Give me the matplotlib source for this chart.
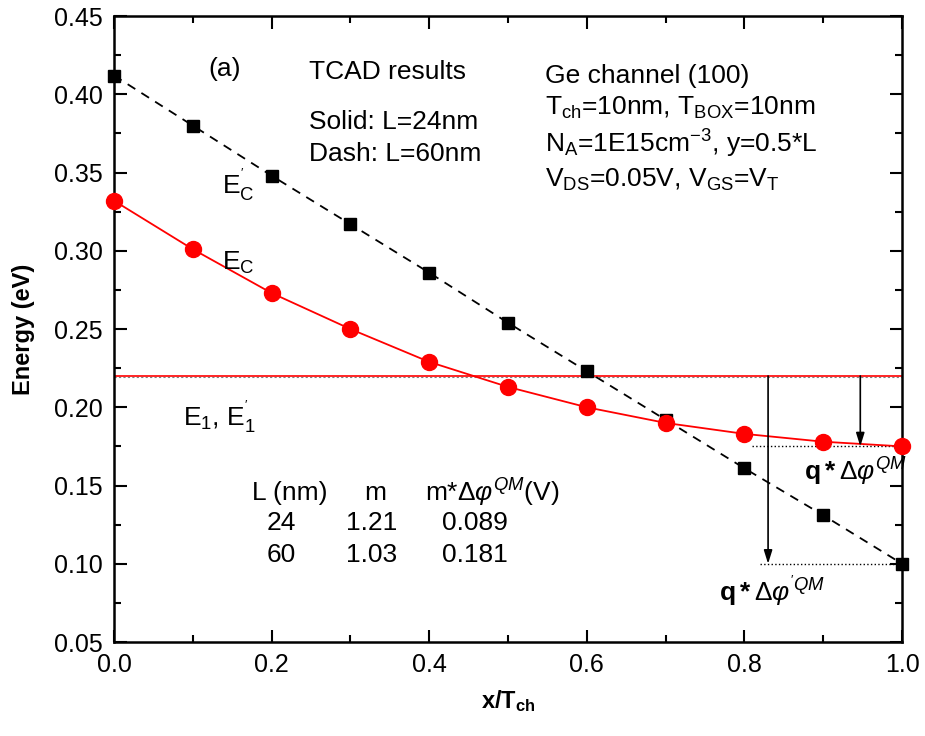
import matplotlib
matplotlib.use("Agg")
import matplotlib.pyplot as plt
from matplotlib.ticker import MultipleLocator, FormatStrFormatter

plt.rcParams['font.family'] = ['Liberation Sans', 'DejaVu Sans']
plt.rcParams['mathtext.fontset'] = 'custom'
plt.rcParams['mathtext.rm'] = 'Liberation Sans'
plt.rcParams['mathtext.it'] = 'Liberation Sans:italic'
plt.rcParams['mathtext.bf'] = 'Liberation Sans:bold'

# Position across the channel, normalised to T_ch
x_pos = [0.0, 0.1, 0.2, 0.3, 0.4, 0.5, 0.6, 0.7, 0.8, 0.9, 1.0]
# Conduction band edge, L = 60 nm (dashed, squares)
ec_60 = [0.412, 0.380, 0.348, 0.317, 0.286, 0.254, 0.223, 0.192, 0.161, 0.131, 0.100]
# Conduction band edge, L = 24 nm (solid, circles)
ec_24 = [0.332, 0.301, 0.273, 0.250, 0.229, 0.213, 0.200, 0.190, 0.183, 0.178, 0.175]
# First subband energy (both lengths)
e1_level = 0.22

# Arrow positions for the quantum-mechanical shifts
arrow_x_60 = 0.83
arrow_x_24 = 0.947

table_header = ["L (nm)", "m", r"m*$\Delta\mathit{φ}^{QM}$(V)"]
table_rows = [["24", "1.21", "0.089"], ["60", "1.03", "0.181"]]

fig = plt.figure(figsize=(9.25, 7.36), dpi=100)
ax = fig.add_axes([0.1232, 0.1277, 0.852, 0.8505])

ax.axhline(e1_level, color='red', lw=1.2, zorder=2)
ax.axhline(e1_level - 0.0005, color='black', lw=0.8, ls=(0, (2, 2)), alpha=0.5, zorder=1)

ax.plot(x_pos, ec_60, color='black', ls=(0, (5, 4)), lw=1.3, marker='s',
        ms=9, mfc='black', mec='black', clip_on=False, zorder=3)
ax.plot(x_pos, ec_24, color='red', ls='-', lw=1.3, marker='o',
        ms=11.5, mfc='red', mec='red', clip_on=False, zorder=3)

# dotted reference levels at the drain-side band edges
ax.plot([0.82, 1.0], [ec_60[-1], ec_60[-1]], color='black', ls=':', lw=1.0)
ax.plot([0.81, 1.0], [ec_24[-1], ec_24[-1]], color='black', ls=':', lw=1.0)

arrow_kw = dict(arrowstyle='-|>,head_length=0.8,head_width=0.25', color='black', lw=1.2,
                shrinkA=0, shrinkB=0)
ax.annotate('', xy=(arrow_x_60, ec_60[-1]), xytext=(arrow_x_60, e1_level), arrowprops=arrow_kw)
ax.annotate('', xy=(arrow_x_24, ec_24[-1]), xytext=(arrow_x_24, e1_level), arrowprops=arrow_kw)

ax.set_xlim(0, 1.0)
ax.set_ylim(0.05, 0.45)
ax.xaxis.set_major_locator(MultipleLocator(0.2))
ax.xaxis.set_minor_locator(MultipleLocator(0.1))
ax.yaxis.set_major_locator(MultipleLocator(0.05))
ax.yaxis.set_minor_locator(MultipleLocator(0.025))
ax.xaxis.set_major_formatter(FormatStrFormatter('%.1f'))
ax.yaxis.set_major_formatter(FormatStrFormatter('%.2f'))
ax.tick_params(which='both', direction='in', top=True, right=True, width=1.5)
ax.tick_params(which='major', length=9, labelsize=18, pad=8)
ax.tick_params(which='minor', length=5)
for s in ax.spines.values():
    s.set_linewidth(1.8)

ax.set_xlabel(r"x/T$_{\mathregular{ch}}$", fontsize=17, fontweight='bold', labelpad=8)
ax.set_ylabel("Energy (eV)", fontsize=17, fontweight='bold', labelpad=14)

fs = 19
ax.text(0.12, 0.416, "(a)", fontsize=fs, va='center')
ax.text(0.248, 0.414, "TCAD results", fontsize=fs, va='center')
ax.text(0.248, 0.382, "Solid: L=24nm", fontsize=fs, va='center')
ax.text(0.248, 0.362, "Dash: L=60nm", fontsize=fs, va='center')
ax.text(0.547, 0.412, "Ge channel (100)", fontsize=fs, va='center')
ax.text(0.547, 0.391, r"T$_{\mathregular{ch}}$=10nm, T$_{\mathregular{BOX}}$=10nm", fontsize=fs, va='center')
ax.text(0.547, 0.368, r"N$_{\mathregular{A}}$=1E15cm$^{\mathregular{-3}}$, y=0.5*L", fontsize=fs, va='center')
ax.text(0.547, 0.345, r"V$_{\mathregular{DS}}$=0.05V, V$_{\mathregular{GS}}$=V$_{\mathregular{T}}$", fontsize=fs, va='center')

ax.text(0.137, 0.342, r"E$^{'}_{\mathregular{C}}$", fontsize=fs, va='center')
ax.text(0.137, 0.292, r"E$_{\mathregular{C}}$", fontsize=fs, va='center')
ax.text(0.087, 0.194, r"E$_{\mathregular{1}}$, E$^{'}_{\mathregular{1}}$", fontsize=fs, va='center')

ax.text(0.175, 0.145, table_header[0], fontsize=fs, va='center')
ax.text(0.317, 0.145, table_header[1], fontsize=fs, va='center')
ax.text(0.395, 0.145, table_header[2], fontsize=fs, va='center')
row_y = [0.126, 0.1056]
row_x = [0.194, 0.294, 0.416]
for ry, row in zip(row_y, table_rows):
    for rx, val in zip(row_x, row):
        ax.text(rx, ry, val, fontsize=fs, va='center')

ax.text(0.876, 0.159, r"$\mathbf{q*}\Delta\mathit{φ}^{QM}$", fontsize=fs, va='center')
ax.text(0.768, 0.083, r"$\mathbf{q*}\Delta\mathit{φ}^{'QM}$", fontsize=fs, va='center')

fig.savefig("out.png", dpi=100)
